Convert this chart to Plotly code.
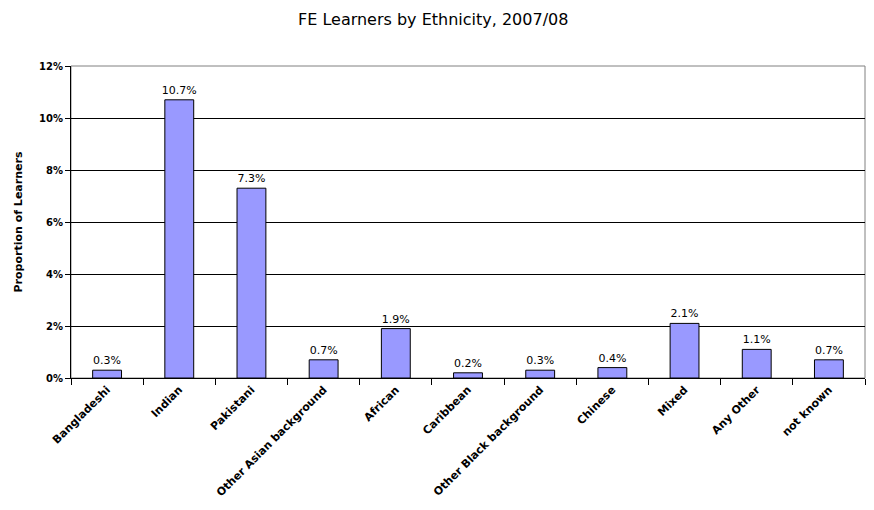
import plotly.graph_objects as go

categories = ["Bangladeshi", "Indian", "Pakistani", "Other Asian background", "African",
              "Caribbean", "Other Black background", "Chinese", "Mixed", "Any Other", "not known"]
values = [0.3, 10.7, 7.3, 0.7, 1.9, 0.2, 0.3, 0.4, 2.1, 1.1, 0.7]
y_ticks = [0, 2, 4, 6, 8, 10, 12]

FONT = "DejaVu Sans, Verdana, sans-serif"

fig = go.Figure()
fig.add_trace(go.Bar(
    x=categories, y=values,
    marker=dict(color="#9999FF", line=dict(color="#000000", width=1)),
    text=[f"{v:.1f}%" for v in values],
    textposition="outside",
    constraintext="none",
    textfont=dict(family=FONT, size=11, color="#000000"),
    cliponaxis=False,
    width=0.4,
))

fig.update_layout(
    width=866, height=502,
    paper_bgcolor="white", plot_bgcolor="white",
    margin=dict(l=63, r=9, t=58, b=132, autoexpand=False),
    showlegend=False,
    title=dict(text="FE Learners by Ethnicity, 2007/08", x=0.491, xanchor="center",
               xref="container", yref="container",
               y=0.988, yanchor="top",
               font=dict(family=FONT, size=16, color="#000000")),
    shapes=[dict(type="rect", xref="paper", yref="paper", x0=0, y0=0, x1=1, y1=1,
                 line=dict(color="#808080", width=1), layer="below")],
)

fig.update_xaxes(
    tickangle=-45, showline=True, linecolor="#000000", linewidth=1,
    ticks="outside", tickson="boundaries", ticklen=6, tickcolor="#000000",
    tickfont=dict(family=FONT, size=11, color="#000000", weight="bold"),
    showgrid=False, automargin=False,
)
fig.update_yaxes(
    range=[0, 12], tickvals=y_ticks, ticktext=[f"{t}%" for t in y_ticks],
    showline=True, linecolor="#000000", linewidth=1,
    ticks="outside", ticklen=5, tickcolor="#000000",
    showgrid=True, gridcolor="#000000", gridwidth=1,
    tickfont=dict(family=FONT, size=10, color="#000000", weight="bold"),
    title=dict(text="Proportion of Learners", standoff=14,
               font=dict(family=FONT, size=11, color="#000000", weight="bold")),
    zeroline=False, automargin=False,
)

fig.write_html("out.html")
